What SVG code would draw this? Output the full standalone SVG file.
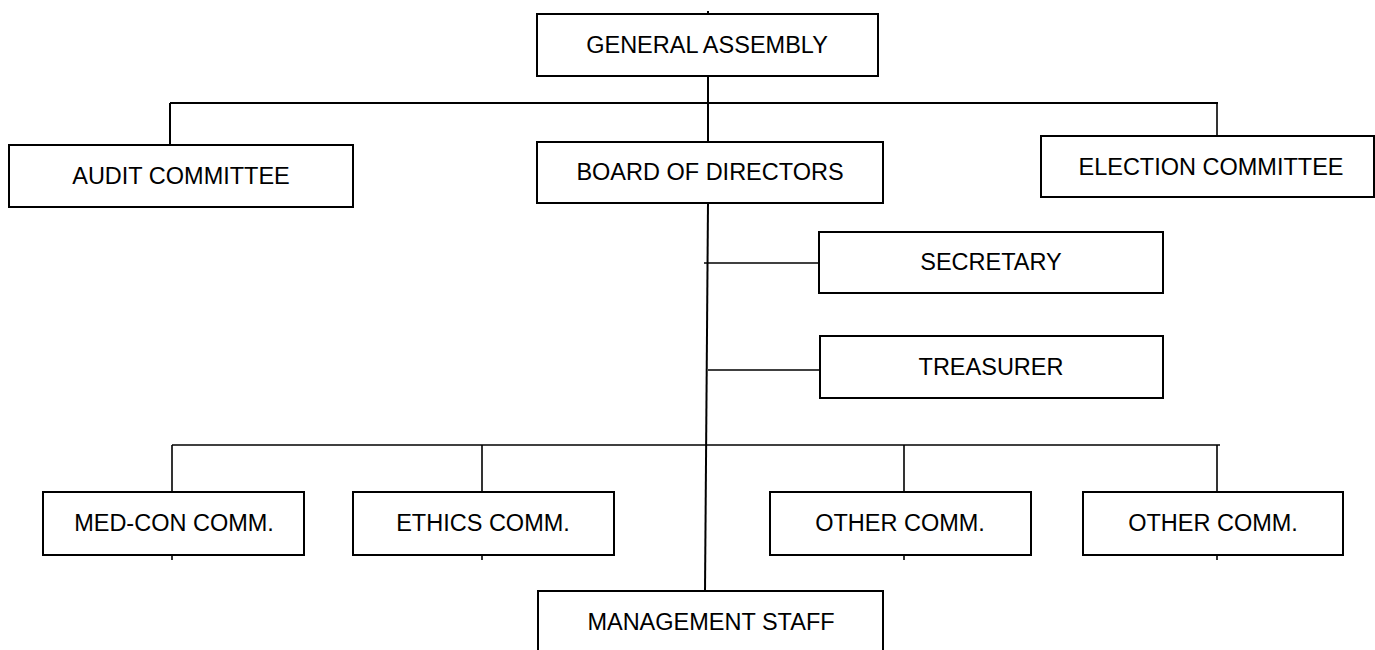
<svg xmlns="http://www.w3.org/2000/svg" width="1375" height="650" viewBox="0 0 1375 650">
<style>
.box{fill:#fff;stroke:#000;stroke-width:2}
.t{font-family:"Liberation Sans",Arial,sans-serif;font-size:23.5px;fill:#000;text-anchor:middle}
.c{stroke:#000;stroke-width:2;fill:none}
.c2{stroke:#000;stroke-width:1.6;fill:none}
</style>
<rect width="1375" height="650" fill="#fff"/>
<g id="connectors">
<line class="c" x1="708" y1="11" x2="708" y2="15"/>
<line class="c" x1="708" y1="76" x2="708" y2="142"/>
<line class="c" x1="170" y1="103" x2="1218" y2="103"/>
<line class="c" x1="170" y1="103" x2="170" y2="145"/>
<line class="c2" x1="1217" y1="103" x2="1217" y2="136"/>
<line class="c" x1="708" y1="203" x2="705" y2="591"/>
<line class="c2" x1="704" y1="263" x2="819" y2="263"/>
<line class="c2" x1="708" y1="370" x2="820" y2="370"/>
<line class="c2" x1="172" y1="445" x2="1220" y2="445"/>
<line class="c2" x1="172" y1="445" x2="172" y2="492"/>
<line class="c2" x1="482" y1="445" x2="482" y2="492"/>
<line class="c2" x1="904" y1="445" x2="904" y2="492"/>
<line class="c2" x1="1217" y1="445" x2="1217" y2="492"/>
<line class="c2" x1="172" y1="555" x2="172" y2="560"/>
<line class="c2" x1="482" y1="555" x2="482" y2="560"/>
<line class="c2" x1="904" y1="555" x2="904" y2="560"/>
<line class="c2" x1="1217" y1="555" x2="1217" y2="560"/>
</g>
<g id="general-assembly"><rect class="box" x="537" y="14" width="341" height="62"/><text class="t" x="707" y="53">GENERAL ASSEMBLY</text></g>
<g id="audit-committee"><rect class="box" x="9" y="145" width="344" height="62"/><text class="t" x="181" y="184">AUDIT COMMITTEE</text></g>
<g id="board-of-directors"><rect class="box" x="537" y="142" width="346" height="61"/><text class="t" x="710" y="180">BOARD OF DIRECTORS</text></g>
<g id="election-committee"><rect class="box" x="1041" y="136" width="333" height="61"/><text class="t" x="1211" y="175">ELECTION COMMITTEE</text></g>
<g id="secretary"><rect class="box" x="819" y="232" width="344" height="61"/><text class="t" x="991" y="270">SECRETARY</text></g>
<g id="treasurer"><rect class="box" x="820" y="336" width="343" height="62"/><text class="t" x="991" y="375">TREASURER</text></g>
<g id="med-con-comm"><rect class="box" x="43" y="492" width="261" height="63"/><text class="t" x="174" y="531">MED-CON COMM.</text></g>
<g id="ethics-comm"><rect class="box" x="353" y="492" width="261" height="63"/><text class="t" x="483" y="531">ETHICS COMM.</text></g>
<g id="other-comm-1"><rect class="box" x="770" y="492" width="261" height="63"/><text class="t" x="900" y="531">OTHER COMM.</text></g>
<g id="other-comm-2"><rect class="box" x="1083" y="492" width="260" height="63"/><text class="t" x="1213" y="531">OTHER COMM.</text></g>
<g id="management-staff"><rect class="box" x="538" y="591" width="345" height="70"/><text class="t" x="711" y="630">MANAGEMENT STAFF</text></g>
</svg>
